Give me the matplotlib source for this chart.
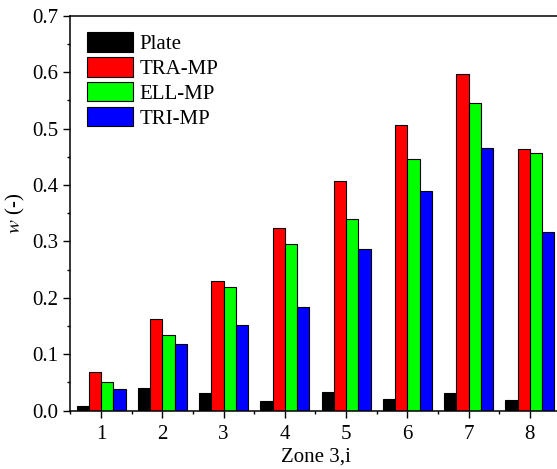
import numpy as np
import matplotlib
matplotlib.use('Agg')
import matplotlib.pyplot as plt
from matplotlib.ticker import MultipleLocator

plt.rcParams['font.family'] = ['Liberation Serif', 'DejaVu Serif']
plt.rcParams['mathtext.fontset'] = 'stix'

zones = [1, 2, 3, 4, 5, 6, 7, 8]
plate = [0.008, 0.041, 0.032, 0.017, 0.034, 0.020, 0.031, 0.019]
tra_mp = [0.068, 0.163, 0.230, 0.324, 0.407, 0.507, 0.597, 0.464]
ell_mp = [0.051, 0.134, 0.219, 0.296, 0.340, 0.446, 0.546, 0.456]
tri_mp = [0.038, 0.118, 0.152, 0.184, 0.287, 0.390, 0.466, 0.316]

labels = ['Plate', 'TRA-MP', 'ELL-MP', 'TRI-MP']
colors = ['#000000', '#ff0000', '#00ff00', '#0000ff']
series = [plate, tra_mp, ell_mp, tri_mp]

fig = plt.figure(figsize=(5.57, 4.69), dpi=100)
ax = fig.add_axes([0.1264, 0.1243, 0.880, 0.8422])

x = np.array(zones)
w = 0.2
offsets = [-0.3, -0.1, 0.1, 0.3]
for s, lab, c, off in zip(series, labels, colors, offsets):
    ax.bar(x + off, s, width=w, color=c, edgecolor='black', linewidth=0.8, label=lab)

ax.set_xlim(0.5, 8.5)
ax.set_ylim(0, 0.7)
ax.set_xticks(zones)
ax.xaxis.set_minor_locator(MultipleLocator(0.5))
ax.yaxis.set_major_locator(MultipleLocator(0.1))
ax.yaxis.set_minor_locator(MultipleLocator(0.05))
ax.yaxis.set_major_formatter(matplotlib.ticker.FormatStrFormatter('%.1f'))

ax.tick_params(which='major', direction='out', length=5, width=1, labelsize=15)
ax.tick_params(axis='x', which='major', pad=5)
ax.tick_params(which='minor', direction='out', length=2.5, width=1)
ax.tick_params(top=False, right=False, which='both')
for sp in ax.spines.values():
    sp.set_linewidth(1.1)

ax.set_xlabel('Zone 3,i', fontsize=15, labelpad=3)
ax.set_ylabel('$w$ (-)', fontsize=15, labelpad=4)

ax.legend(loc='upper left', frameon=False, fontsize=15,
          handlelength=2.2, handleheight=1.05, handletextpad=0.3,
          labelspacing=0.15, borderaxespad=0.4, bbox_to_anchor=(0.0, 1.0))

fig.savefig('out.png', dpi=100)
